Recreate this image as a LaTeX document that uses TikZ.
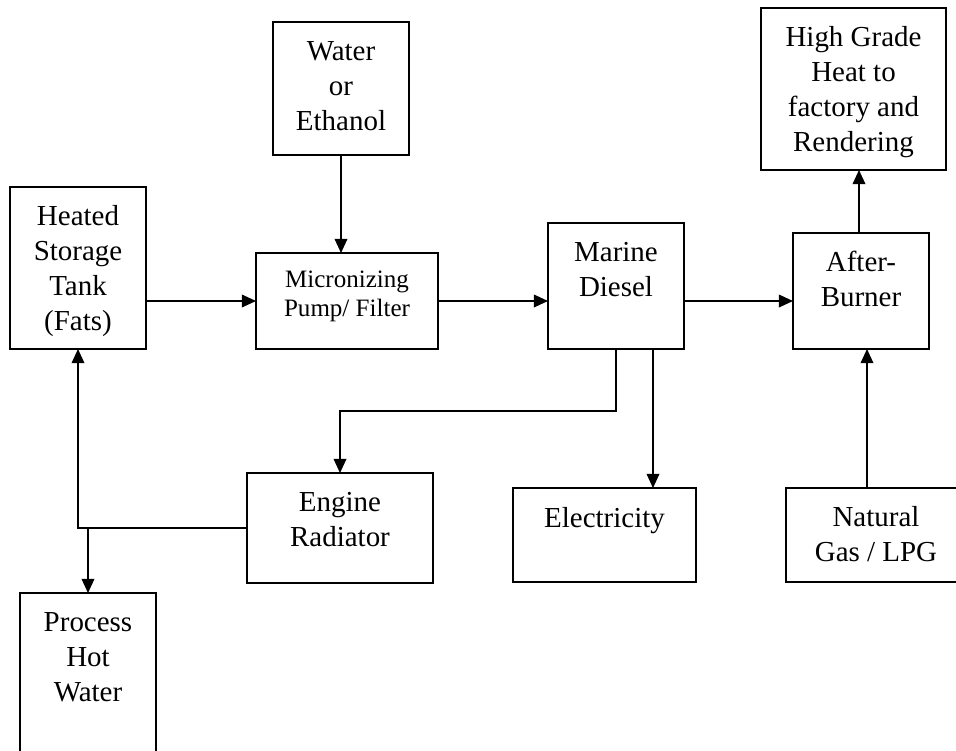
\documentclass[tikz,border=0pt]{standalone}
\usepackage{fontspec}
\setmainfont{Liberation Serif}
\usetikzlibrary{arrows.meta,calc}

\begin{document}
\begin{tikzpicture}[x=0.025cm, y=-0.025cm, line width=1pt,
  >={Triangle[length=10pt,width=9pt]},
  box/.style={draw, rectangle, inner sep=0pt, outer sep=0pt},
  lbl/.style={anchor=base, yshift={-(0.975cm+(#1-1)*0.8675cm)}, align=center,
    font=\fontsize{20.6}{24.7}\selectfont},
  sml/.style={anchor=base, yshift={-(0.85cm+(#1-1)*0.725cm)}, align=center,
    font=\fontsize{17.8}{20.6}\selectfont}]
\useasboundingbox (0,0) rectangle (956,751);
% блоки
\node [box, minimum width=3.4cm, minimum height=3.325cm,
  label={[lbl=3]north:{Water\\or\\Ethanol}}] (water) at (341,88.5) {};
\node [box, minimum width=3.4cm, minimum height=4.05cm,
  label={[lbl=4]north:{Heated\\Storage\\Tank\\(Fats)}}] (tank) at (78,268) {};
\node [box, minimum width=4.55cm, minimum height=2.4cm,
  label={[sml=2]north:{Micronizing\\Pump/ Filter}}] (pump) at (347,301) {};
\node [box, minimum width=3.4cm, minimum height=3.15cm,
  label={[lbl=2]north:{Marine\\Diesel}}] (diesel) at (616,286) {};
\node [box, minimum width=3.4cm, minimum height=2.9cm,
  label={[lbl=2]north:{After-\\Burner}}] (burner) at (861,291) {};
\node [box, minimum width=4.625cm, minimum height=4.05cm,
  label={[lbl=4]north:{High Grade\\Heat to\\factory and\\Rendering}}] (heat) at (853.5,89) {};
\node [box, minimum width=4.65cm, minimum height=2.75cm,
  label={[lbl=2]north:{Engine\\Radiator}}] (radiator) at (340,528) {};
\node [box, minimum width=4.575cm, minimum height=2.35cm,
  label={[lbl=1]north:{Electricity}}] (elec) at (604.5,535) {};
\node [box, minimum width=4.5cm, minimum height=2.35cm,
  label={[lbl=2]north:{Natural\\Gas / LPG}}] (gas) at (876,535) {};
\node [box, minimum width=3.4cm, minimum height=4.05cm,
  label={[lbl=3]north:{Process\\Hot\\Water}}] (hotwater) at (88,674) {};
% стрелки
\draw [->] (water.south) -- (water.south |- pump.north);
\draw [->] (tank.east |- pump.west) -- (pump.west);
\draw [->] (pump.east) -- (pump.east -| diesel.west);
\draw [->] (pump.east -| diesel.east) -- (pump.east -| burner.west);
\draw [->] ($(burner.north)+(-2,0)$) -- ($(burner.north |- heat.south)+(-2,0)$);
\draw [->] (diesel.south) -- ++(0,62) -| (radiator.north);
\draw [->] ($(diesel.south)+(37,0)$) -- ($(diesel.south |- elec.north)+(37,0)$);
\draw [->] ($(gas.north)+(-9,0)$) -- ($(gas.north |- burner.south)+(-9,0)$);
\draw [->] (radiator.west) -| (tank.south);
\draw [->] (hotwater.north |- radiator.west) -- (hotwater.north);
\end{tikzpicture}
\end{document}
